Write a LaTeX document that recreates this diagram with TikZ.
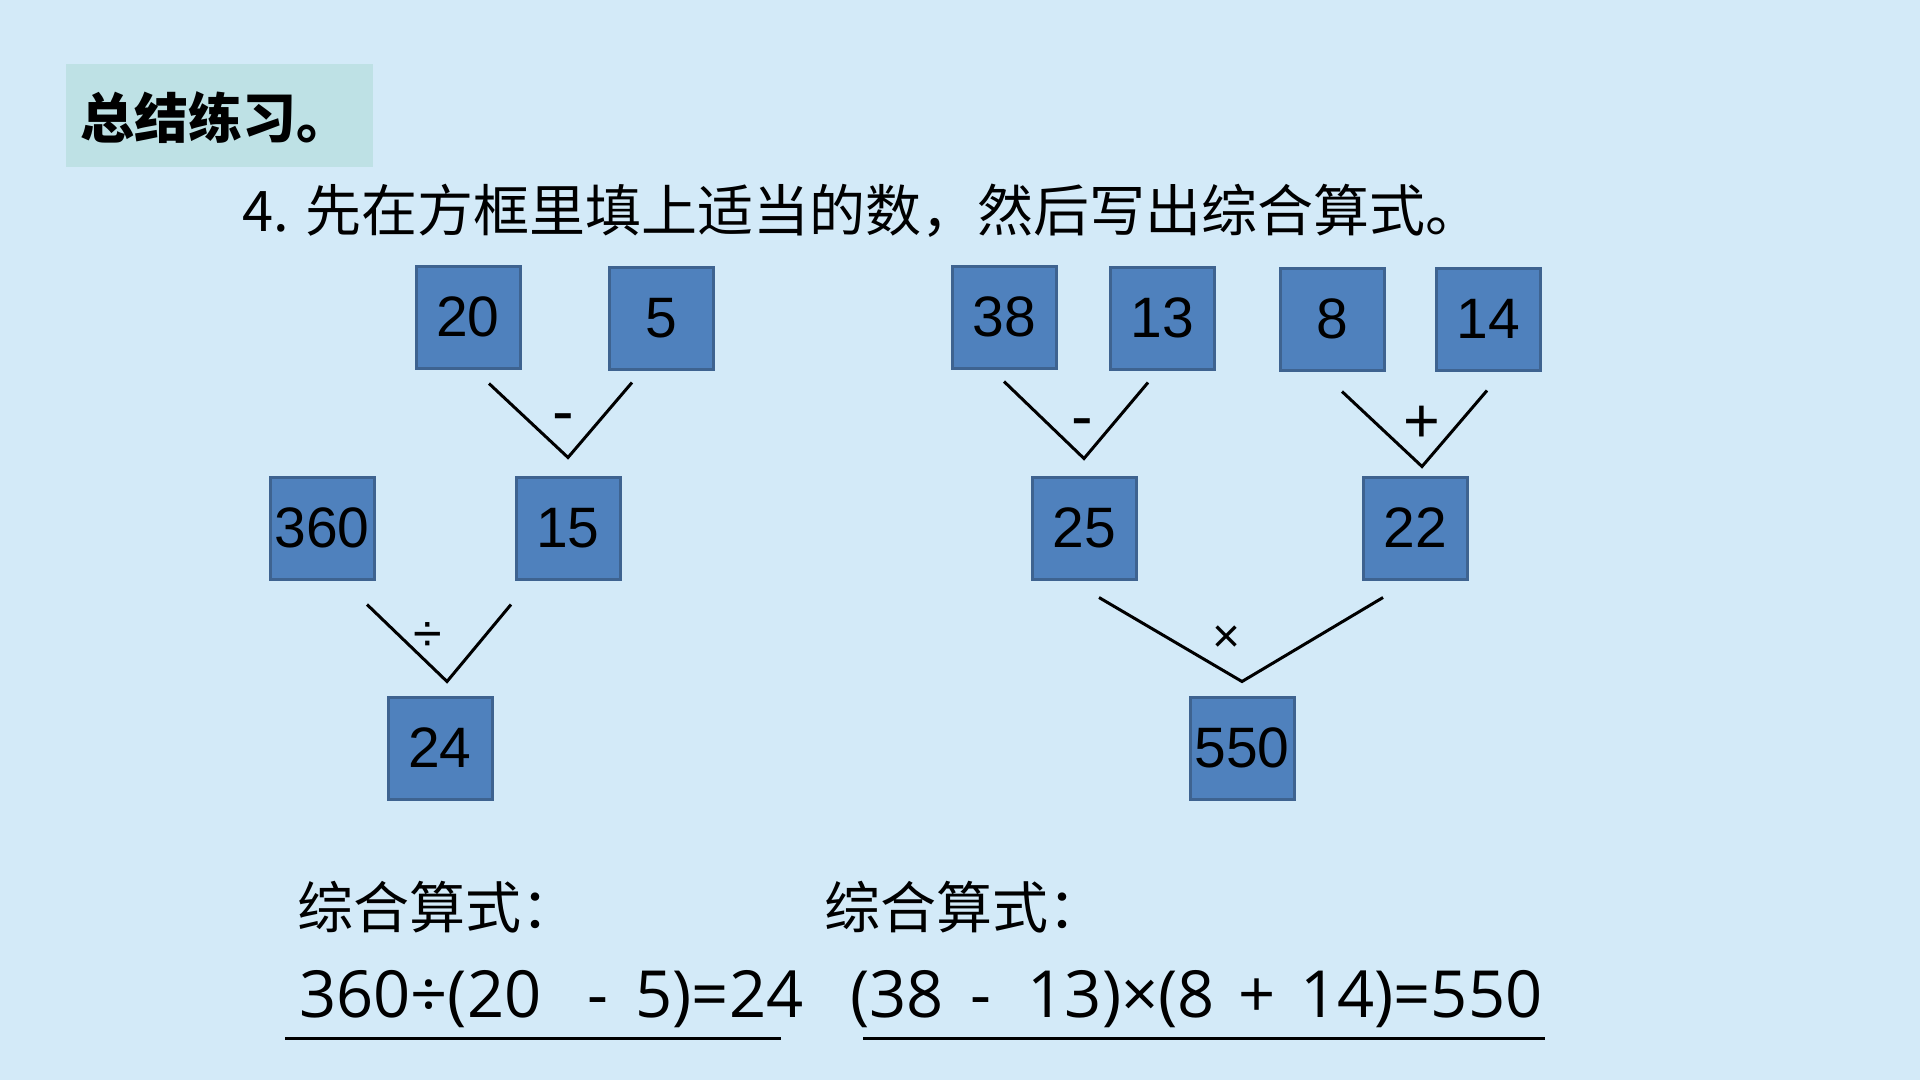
\documentclass[tikz,border=0pt]{standalone}
\usepackage{fontspec}
\setmainfont{Liberation Sans}
\newfontfamily\cjk{Noto Sans CJK SC}
\newfontfamily\eqfont{Open Sans}

\definecolor{bgblue}{RGB}{211,234,248}
\definecolor{titlebg}{RGB}{190,225,229}
\definecolor{boxfill}{RGB}{79,129,189}
\definecolor{boxedge}{RGB}{62,99,144}

\tikzset{
    numbox/.style={draw=boxedge, line width=3pt, fill=boxfill, inner sep=0pt,
        minimum width=104pt, minimum height=102pt, font=\fontsize{57}{60}\selectfont},
    vline/.style={line width=3pt, line join=miter},
    oplabel/.style={inner sep=0pt, anchor=base, font=\fontsize{#1}{#1}\selectfont},
    cjktext/.style={inner sep=0pt, font=\cjk\fontsize{56}{60}\selectfont},
    eqtext/.style={inner sep=0pt, anchor=base west, font=\eqfont\fontsize{65}{68}\selectfont},
}

\begin{document}
\begin{tikzpicture}[x=1pt, y=-1pt]
    \fill[bgblue] (0,0) rectangle (1920,1080);
    \useasboundingbox (0,0) rectangle (1920,1080);

    % heading
    \fill[titlebg] (66,64) rectangle (373,167);
    \node[cjktext, anchor=west, font=\cjk\bfseries\fontsize{54}{60}\selectfont] (title) at (80,118) {总结练习。};
    \node[cjktext, anchor=west] (task) at (242,211) {4. 先在方框里填上适当的数，然后写出综合算式。};

    % left tree
    \node[numbox] (n20) at (468,317) {20};
    \node[numbox] (n5) at (661,318) {5};
    \node[numbox] (n360) at (322,528) {360};
    \node[numbox] (n15) at (568,528) {15};
    \node[numbox] (n24) at (440,748) {24};

    \draw[vline] ([xshift=21pt, yshift=-14pt]n20.south) -- ([yshift=18pt]n15.north) -- ([xshift=-29pt, yshift=-12pt]n5.south);
    \draw[vline] ([xshift=45pt, yshift=-24pt]n360.south) -- ([xshift=7pt, yshift=14pt]n24.north) -- ([xshift=-57pt, yshift=-24pt]n15.south);
    \node[oplabel=65] (op1) at (563,433) {-};
    \node[oplabel=52] (op2) at (428,651) {÷};

    % right tree
    \node[numbox] (n38) at (1004,317) {38};
    \node[numbox] (n13) at (1162,318) {13};
    \node[numbox] (n8) at (1332,319) {8};
    \node[numbox] (n14) at (1488,319) {14};
    \node[numbox] (n25) at (1084,528) {25};
    \node[numbox] (n22) at (1415,528) {22};
    \node[numbox] (n550) at (1242,748) {550};

    \draw[vline] ([yshift=-12pt]n38.south) -- ([yshift=17pt]n25.north) -- ([xshift=-14pt, yshift=-12pt]n13.south);
    \draw[vline] ([xshift=10pt, yshift=-20pt]n8.south) -- ([xshift=7pt, yshift=9pt]n22.north) -- ([xshift=-1pt, yshift=-19pt]n14.south);
    \draw[vline] ([xshift=15pt, yshift=-17pt]n25.south) -- ([yshift=14pt]n550.north) -- ([xshift=-32pt, yshift=-17pt]n22.south);
    \node[oplabel=65] (op3) at (1082,438) {-};
    \node[oplabel=63] (op4) at (1422,442) {+};
    \node[oplabel=48] (op5) at (1227,652) {×};

    % answers
    \node[cjktext, anchor=west] (lbl1) at (297,907) {综合算式：};
    \node[cjktext, anchor=west] (lbl2) at (824,907) {综合算式：};
    \node[eqtext] (eq1) at (299,1017) {360÷(20\hspace{46pt}-\hspace{27pt}5)=24};
    \node[eqtext] (eq2) at (850,1017) {(38\hspace{27pt}-\hspace{36pt}13)×(8\hspace{24pt}+\hspace{24pt}14)=550};
    \draw[line width=3pt] (285,1038) -- (781,1038);
    \draw[line width=3pt] (863,1038) -- (1545,1038);
\end{tikzpicture}
\end{document}
